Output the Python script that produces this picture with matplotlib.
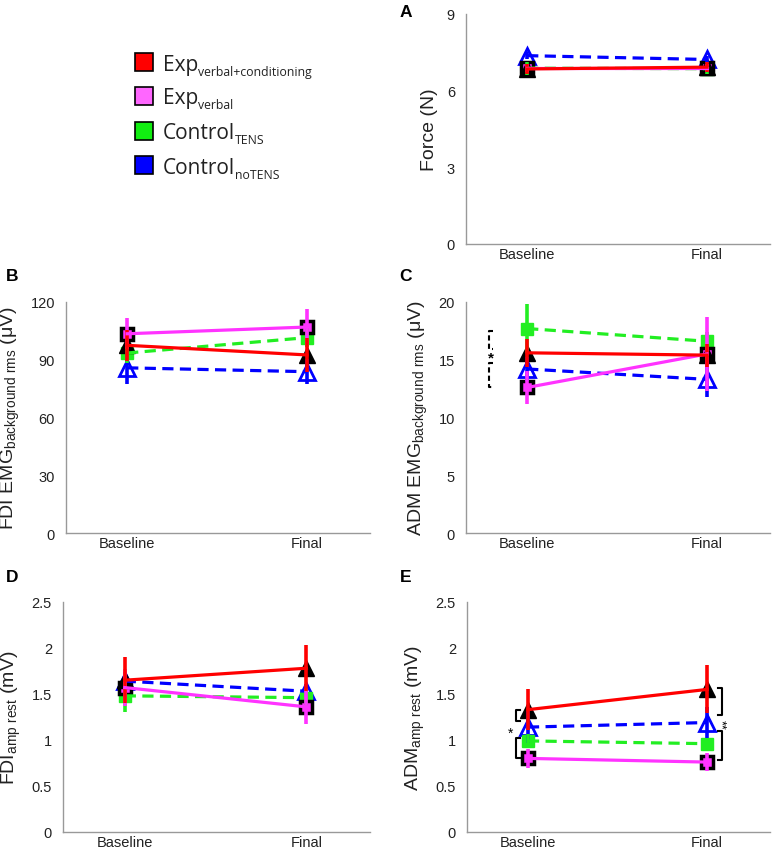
import matplotlib
matplotlib.use("Agg")
import matplotlib.pyplot as plt
from matplotlib.patches import Rectangle

plt.rcParams['font.family'] = ['Liberation Sans', 'DejaVu Sans']
plt.rcParams['mathtext.fontset'] = 'custom'
plt.rcParams['mathtext.rm'] = 'Liberation Sans'

W, H = 772, 853

timepoints = ["Baseline", "Final"]
x_pos = [1, 2]

# group order: Exp verbal+conditioning, Exp verbal, Control TENS, Control noTENS
force_mean = [[6.85, 6.92], [6.90, 6.90], [6.88, 6.86], [7.37, 7.22]]
force_err = [[0.20, 0.20], [0.15, 0.15], [0.25, 0.20], [0.15, 0.15]]

fdi_bg_mean = [[97.5, 92.5], [103.5, 107.0], [93.5, 101.5], [85.8, 83.8]]
fdi_bg_err = [[8.0, 9.0], [8.0, 9.5], [5.0, 5.0], [8.5, 6.5]]

adm_bg_mean = [[15.6, 15.4], [12.6, 15.5], [17.7, 16.6], [14.2, 13.3]]
adm_bg_err = [[1.2, 1.0], [1.4, 3.2], [2.1, 0.8], [1.0, 1.5]]

fdi_amp_mean = [[1.65, 1.78], [1.57, 1.36], [1.48, 1.46], [1.64, 1.53]]
fdi_amp_err = [[0.25, 0.25], [0.20, 0.19], [0.18, 0.10], [0.10, 0.08]]

adm_amp_mean = [[1.33, 1.55], [0.80, 0.76], [0.99, 0.96], [1.14, 1.19]]
adm_amp_err = [[0.22, 0.26], [0.10, 0.10], [0.08, 0.06], [0.17, 0.17]]

legend_main = ["Exp", "Exp", "Control", "Control"]
legend_sub = ["verbal+conditioning", "verbal", "TENS", "noTENS"]
legend_colors = ["#ff0000", "#ff66ff", "#11ee11", "#0000ff"]

line_colors = ["#ff0000", "#ff33ff", "#22ee22", "#0000ff"]
line_styles = ["-", "-", (0, (3.5, 2)), (0, (3.5, 2))]
marker_styles = [
    dict(marker="^", ms=11, mfc="black", mec="black", mew=1),
    dict(marker="s", ms=8, mfc="#ff33ff", mec="black", mew=2.5),
    dict(marker="s", ms=9, mfc="#22ee22", mec="#22ee22", mew=1),
    dict(marker="^", ms=11, mfc="none", mec="#0000ff", mew=2),
]
draw_order = [3, 2, 1, 0]


def px_axes(l, t, r, b):
    return [l / W, 1 - b / H, (r - l) / W, (b - t) / H]


def panel(rect, mean, err, ylim, yticks, ylabel):
    ax = fig.add_axes(px_axes(*rect))
    for k, g in enumerate(draw_order):
        ax.plot(x_pos, mean[g], ls="none", zorder=2 + k * 0.1, **marker_styles[g])
        ax.errorbar(x_pos, mean[g], yerr=err[g], color=line_colors[g], ls=line_styles[g],
                    lw=2.3, elinewidth=2.6, capsize=0, zorder=3 + k * 0.1)
    ax.set_xlim(0.66, 2.35)
    ax.set_ylim(*ylim)
    ax.set_yticks(yticks)
    ax.set_xticks(x_pos)
    ax.set_xticklabels(timepoints)
    for s in ["top", "right"]:
        ax.spines[s].set_visible(False)
    for s in ["left", "bottom"]:
        ax.spines[s].set_color("#999999")
        ax.spines[s].set_linewidth(1)
    ax.tick_params(length=0, labelsize=10.5, colors="#222222")
    ax.tick_params(axis="y", pad=8)
    ax.tick_params(axis="x", pad=2)
    ax.set_ylabel(ylabel, fontsize=14, color="#222222", labelpad=6)
    return ax


fig = plt.figure(figsize=(W / 100, H / 100), dpi=100)

axA = panel((466, 15, 770, 245), force_mean, force_err, (0, 9), [0, 3, 6, 9], "Force (N)")
axB = panel((66, 303, 370, 534), fdi_bg_mean, fdi_bg_err, (0, 120), [0, 30, 60, 90, 120],
            r"FDI EMG$_{\mathregular{background\ rms}}$ (μV)")
axC = panel((466, 303, 770, 534), adm_bg_mean, adm_bg_err, (0, 20), [0, 5, 10, 15, 20],
            r"ADM EMG$_{\mathregular{background\ rms}}$ (μV)")
axD = panel((63, 603, 370, 833), fdi_amp_mean, fdi_amp_err, (0, 2.5), [0, 0.5, 1, 1.5, 2, 2.5],
            r"FDI$_{\mathregular{amp\ rest}}$ (mV)")
axE = panel((467, 603, 770, 833), adm_amp_mean, adm_amp_err, (0, 2.5), [0, 0.5, 1, 1.5, 2, 2.5],
            r"ADM$_{\mathregular{amp\ rest}}$ (mV)")
axD.set_yticklabels(["0", "0.5", "1", "1.5", "2", "2.5"])
axE.set_yticklabels(["0", "0.5", "1", "1.5", "2", "2.5"])

# C: dashed bracket at baseline
bx = 0.79
axC.plot([bx + 0.02, bx, bx, bx + 0.02], [17.5, 17.5, 15.9, 15.9], color="black", lw=1.5,
         ls=(0, (2.5, 1.5)), clip_on=False)
axC.plot([bx + 0.02, bx, bx, bx + 0.02], [14.7, 14.7, 12.6, 12.6], color="black", lw=1.5,
         ls=(0, (2.5, 1.5)), clip_on=False)
axC.text(bx + 0.01, 15.2, "*", ha="center", va="center", fontsize=11, fontweight="bold")

# E: brackets
ex = 0.935
axE.plot([ex + 0.02, ex, ex, ex + 0.02], [1.33, 1.33, 1.21, 1.21], color="black", lw=1.5, clip_on=False)
axE.plot([ex + 0.02, ex, ex, ex + 0.02], [1.02, 1.02, 0.80, 0.80], color="black", lw=1.5, clip_on=False)
axE.text(ex - 0.035, 1.08, "*", ha="center", va="center", fontsize=10)
fx = 2.08
axE.plot([fx - 0.02, fx, fx, fx - 0.02], [1.56, 1.56, 1.27, 1.27], color="black", lw=1.5, clip_on=False)
axE.plot([fx - 0.02, fx, fx, fx - 0.02], [1.10, 1.10, 0.78, 0.78], color="black", lw=1.5, clip_on=False)
axE.text(fx - 0.005, 1.18, "**", ha="center", va="center", fontsize=9, rotation=-90)

# overlay for legend and panel letters (pixel coordinates)
ov = fig.add_axes([0, 0, 1, 1], zorder=-1)
ov.set_xlim(0, W)
ov.set_ylim(H, 0)
ov.axis("off")

box_y = [63, 96.5, 131.5, 166]
for i in range(4):
    ov.add_patch(Rectangle((135, box_y[i] - 9), 18, 18, facecolor=legend_colors[i],
                           edgecolor="black", lw=1.2))
    t = ov.text(163, box_y[i] + 7.5, legend_main[i], fontsize=15, family="Open Sans",
                va="baseline", ha="left", color="#222222")
    ov.annotate(legend_sub[i], xy=(1, 0), xycoords=t, va="baseline", ha="left",
                fontsize=8.8, family="Open Sans", color="#222222")

for letter, (lx, ly) in zip("ABCDE", [(406, 12), (12, 276), (406, 276), (12, 577), (406, 577)]):
    ov.text(lx, ly, letter, fontsize=12.5, fontweight="bold", ha="center", va="center")

fig.savefig("out.png", dpi=100)
